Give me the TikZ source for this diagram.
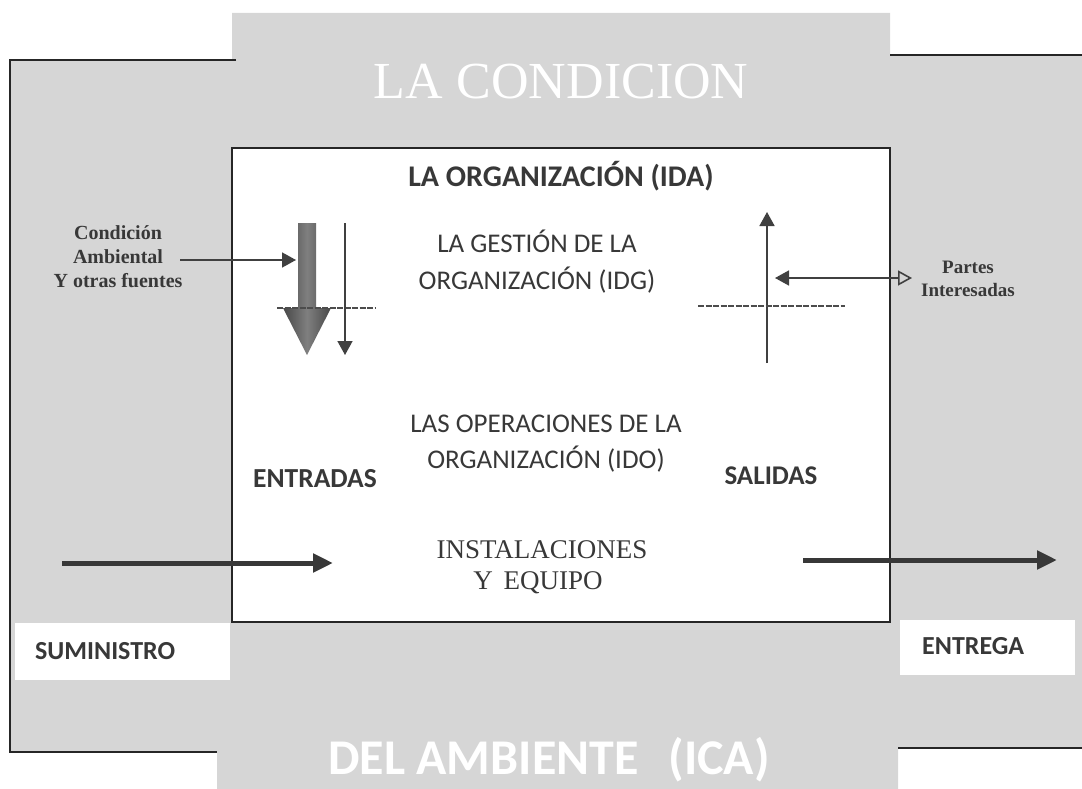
\documentclass[tikz,border=0pt]{standalone}
\usepackage{fontspec}
\setmainfont{Carlito}
\newfontfamily\tnr{Liberation Serif}
\usetikzlibrary{arrows.meta,positioning}
\definecolor{fondo}{gray}{0.84}
\definecolor{tinta}{gray}{0.22}
\newcommand{\tam}[1]{\fontsize{#1}{#1}\selectfont}
\begin{document}
\begin{tikzpicture}
[x=1pt,y=-1pt,
t/.style={inner sep=0pt,anchor=base,text=tinta},
borde/.style={line width=2.2pt,black!85},
fina/.style={line width=1.6pt,black!75,-{Triangle[length=14pt,width=15pt]}},
gruesa/.style={line width=5pt,black!78,-{Triangle[length=20pt,width=18pt]}},
raya/.style={line width=1.6pt,black!70,dash pattern=on 6pt off 1.5pt}]
\useasboundingbox (0,0) rectangle (1082,789);
\fill[fondo] (10,60) -- (232,60) -- (232,13) -- (890,13) -- (890,55) -- (1082,55) -- (1082,748)
  -- (898,748) -- (898,789) -- (217,789) -- (217,752) -- (10,752) -- cycle;
\draw[borde] (236,60) -- (10,60) -- (10,752) -- (217,752);
\draw[borde] (890,55) -- (1082,55);
\draw[borde] (898,748) -- (1082,748);
\node[fill=white,minimum width=215pt,minimum height=57pt,inner sep=0pt] (sumbox) at (122.5,651.5) {};
\node[fill=white,minimum width=175pt,minimum height=55pt,inner sep=0pt] (entbox) at (987.5,647.5) {};
\node[draw,borde,fill=white,minimum width=658pt,minimum height=474pt,inner sep=0pt] (org) at (561,385) {};
\node[t,text=white,font=\tnr\tam{52}] (cond) at (561,99) {LA\hspace{14pt}CONDICION};
\node[t,text=white,font=\bfseries\tam{50}] (amb) at (549,774) {DEL AMBIENTE\hspace{30pt}(ICA)};
\node[t,font=\bfseries\tam{30}] (ida) at (561,186) {LA ORGANIZACIÓN (IDA)};
\node[t,font=\tam{27}] (idg1) at (537,252) {LA GESTIÓN DE LA};
\node[t,font=\tam{27}] (idg2) at (537,289) {ORGANIZACIÓN (IDG)};
\node[t,font=\tam{27}] (ido1) at (546,432) {LAS OPERACIONES DE LA};
\node[t,font=\tam{27}] (ido2) at (546,468) {ORGANIZACIÓN (IDO)};
\node[t,font=\bfseries\tam{27.5}] (entr) at (315,487) {ENTRADAS};
\node[t,font=\bfseries\tam{27}] (sal) at (771,484) {SALIDAS};
\node[t,font=\tnr\tam{27}] (inst1) at (542,558) {INSTALACIONES};
\node[t,font=\tnr\tam{27}] (inst2) at (538,589) {Y\hspace{4pt} EQUIPO};
\node[t,font=\bfseries\tam{26},anchor=base west] (sum) at (35,659) {SUMINISTRO};
\node[t,font=\bfseries\tam{26},anchor=base west] (ent) at (922,654) {ENTREGA};
\node[t,font=\tnr\bfseries\tam{20}] (c1) at (118,239) {Condición};
\node[t,font=\tnr\bfseries\tam{20}] (c2) at (118,263) {Ambiental};
\node[t,font=\tnr\bfseries\tam{20}] (c3) at (118,287) {Y otras fuentes};
\node[t,font=\tnr\bfseries\tam{19}] (p1) at (968,273) {Partes};
\node[t,font=\tnr\bfseries\tam{19}] (p2) at (968,296) {Interesadas};
\coordinate (ca) at (180,260);
\coordinate (cb) at (296,260);
\coordinate (fa) at (345,223);
\coordinate (fb) at (345,355);
\coordinate (ra) at (277,308);
\coordinate (rb) at (375,308);
\coordinate (sa) at (767,363);
\coordinate (sb) at (767,212);
\coordinate (da) at (775,278);
\coordinate (db) at (912,278);
\coordinate (qa) at (698,306);
\coordinate (qb) at (845,306);
\coordinate (ia) at (62,563);
\coordinate (ib) at (333,563);
\coordinate (oa) at (803,560);
\coordinate (ob) at (1057,560);
\shade[left color=black!72,right color=black!72,middle color=black!50]
  (298,223) -- (316,223) -- (316,308) -- (331,308) -- (307,355) -- (283,308) -- (298,308) -- cycle;
\draw[raya] (ra) -- (rb);
\draw[fina] (ca) -- (cb);
\draw[fina] (fa) -- (fb);
\draw[fina] (sa) -- (sb);
\draw[raya] (qa) -- (qb);
\draw[line width=1.6pt,black!75,{Triangle[length=14pt,width=15pt]}-{Triangle[open,length=14pt,width=15pt]}] (da) -- (db);
\draw[gruesa] (ia) -- (ib);
\draw[gruesa] (oa) -- (ob);
\end{tikzpicture}
\end{document}
